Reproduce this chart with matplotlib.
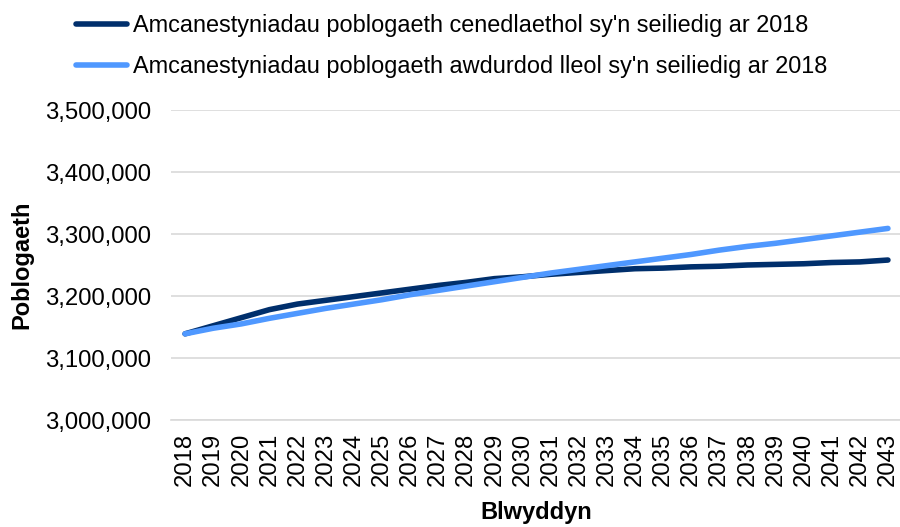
import matplotlib
matplotlib.use("Agg")
import matplotlib.pyplot as plt
from matplotlib.ticker import FuncFormatter

plt.rcParams['font.family'] = ['Liberation Sans', 'DejaVu Sans']

years = list(range(2018, 2044))
national = [3139000, 3152000, 3165000, 3178000, 3187000, 3193000, 3199000, 3205000,
            3211000, 3217000, 3222000, 3228000, 3231000, 3235000, 3238000, 3241000,
            3244000, 3245000, 3247000, 3248000, 3250000, 3251000, 3252000, 3254000,
            3255000, 3258000]
local = [3139000, 3148000, 3155000, 3164000, 3172000, 3180000, 3187000, 3194000,
         3202000, 3209000, 3216000, 3223000, 3230000, 3237000, 3243000, 3249000,
         3255000, 3261000, 3267000, 3274000, 3280000, 3285000, 3291000, 3297000,
         3303000, 3309000]
labels = ["Amcanestyniadau poblogaeth cenedlaethol sy'n seiliedig ar 2018",
          "Amcanestyniadau poblogaeth awdurdod lleol sy'n seiliedig ar 2018"]

fig = plt.figure(figsize=(9, 5.27), dpi=100)
ax = fig.add_axes([171/900, 1-420/527, 731/900, 310/527])

x = range(len(years))
l1, = ax.plot(x, national, color='#002F6C', lw=4.0, solid_capstyle='round', zorder=3)
l2, = ax.plot(x, local, color='#4F98FF', lw=4.0, solid_capstyle='round', zorder=3)

ax.set_xlim(-0.5, len(years) - 0.5)
ax.set_ylim(3000000, 3500000)
ax.set_yticks(range(3000000, 3500001, 100000))
ax.yaxis.set_major_formatter(FuncFormatter(lambda v, p: "{:,.0f}".format(v)))
ax.set_xticks(list(x))
ax.set_xticklabels([str(y) for y in years], rotation=90)
ax.tick_params(axis='both', length=0, labelsize=17.2, colors='black')
ax.tick_params(axis='y', pad=14)
ax.tick_params(axis='x', pad=9)

ax.grid(axis='y', color='#D9D9D9', lw=1.2)
ax.set_axisbelow(True)
for s in ['left', 'right', 'top']:
    ax.spines[s].set_visible(False)
ax.spines['bottom'].set_color('#D9D9D9')
ax.spines['bottom'].set_linewidth(1.2)

ax.set_ylabel("Poblogaeth", fontsize=17, fontweight='bold', labelpad=9)
ax.set_xlabel("Blwyddyn", fontsize=17, fontweight='bold', labelpad=11)

fig.legend([l1, l2], labels, loc='upper left', bbox_to_anchor=(64/900, 0.996),
           frameon=False, fontsize=16.9, handlelength=2.2, handletextpad=0.25,
           labelspacing=0.78, borderaxespad=0.1)

fig.savefig("out.png", dpi=100)
